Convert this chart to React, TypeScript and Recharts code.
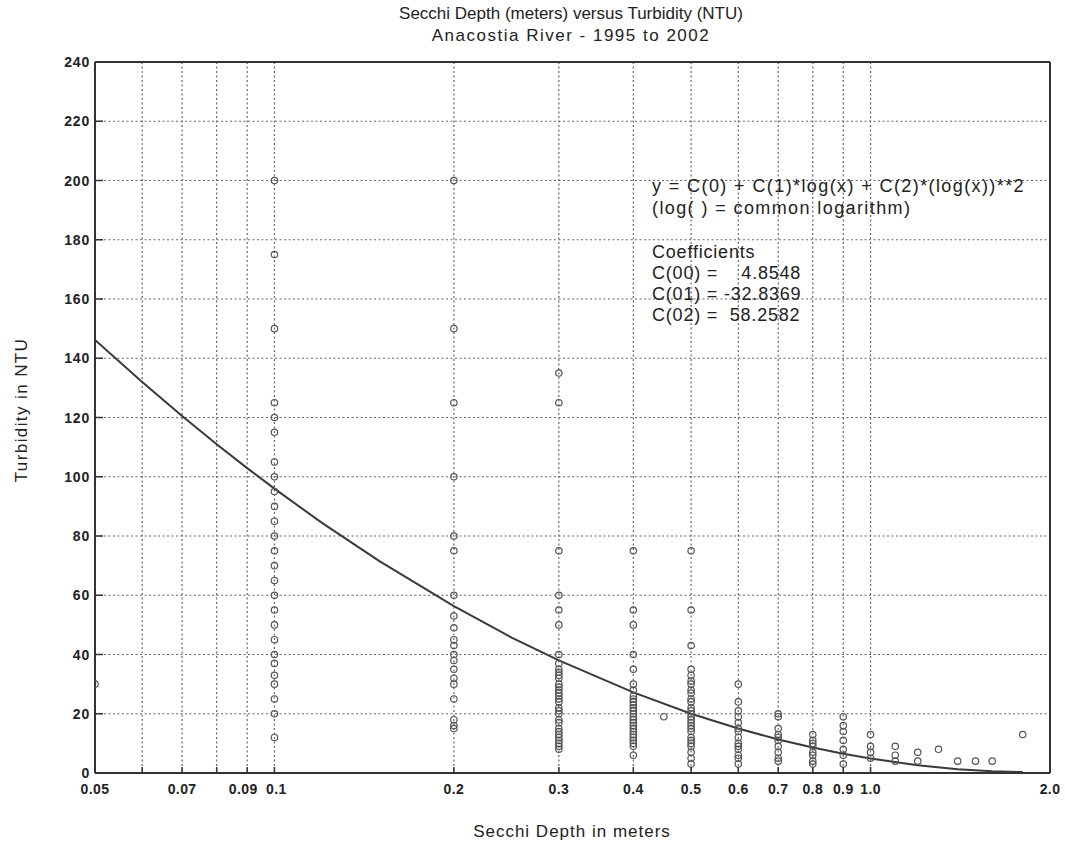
import React from 'react';
import { ScatterChart, Scatter, XAxis, YAxis, CartesianGrid, ReferenceLine } from 'recharts';

// axis ticks
const yTicks = [0, 20, 40, 60, 80, 100, 120, 140, 160, 180, 200, 220, 240];
const xTicks = [0.05, 0.06, 0.07, 0.08, 0.09, 0.1, 0.2, 0.3, 0.4, 0.5, 0.6, 0.7, 0.8, 0.9, 1.0, 2.0];
const xTickLabels = ['0.05', '', '0.07', '', '0.09', '0.1', '0.2', '0.3', '0.4', '0.5', '0.6', '0.7', '0.8', '0.9', '1.0', '2.0'];

// observed turbidity (NTU) per secchi depth reading
const ntuAt005 = [30];
const ntuAt01 = [200, 175, 150, 125, 120, 115, 105, 100, 95, 90, 85, 80, 75, 70, 65, 60, 55, 50, 45, 40, 37, 33, 30, 25, 20, 12];
const ntuAt02 = [200, 150, 125, 100, 80, 75, 60, 53, 49, 45, 43, 40, 38, 35, 32, 30, 25, 18, 16, 15];
const ntuAt03 = [135, 125, 75, 60, 55, 50, 40, 37, 35, 34, 33, 32, 30, 29, 28, 27, 26, 25, 24, 22, 21, 20, 18, 17, 15, 14, 13, 12, 11, 10, 9, 8];
const ntuAt04 = [75, 55, 50, 40, 35, 30, 28, 26, 25, 24, 23, 22, 21, 20, 19, 18, 17, 16, 15, 14, 13, 12, 11, 10, 9, 6];
const ntuAt045 = [19];
const ntuAt05 = [75, 55, 43, 35, 33, 31, 30, 28, 27, 25, 24, 22, 21, 20, 19, 18, 17, 16, 15, 14, 12, 11, 10, 9, 7, 5, 3];
const ntuAt06 = [30, 24, 21, 19, 17, 15, 14, 12, 10, 9, 8, 6, 5, 3];
const ntuAt07 = [20, 19, 15, 13, 12, 11, 9, 7, 5, 4];
const ntuAt08 = [13, 11, 10, 9, 7, 6, 4, 3];
const ntuAt09 = [19, 16, 14, 11, 8, 6, 3];
const ntuAt10 = [13, 9, 7, 5];
const ntuAt11 = [9, 6, 4];
const ntuAt12 = [7, 4];
const ntuAt13 = [8];
const ntuAt14 = [4];
const ntuAt15 = [4];
const ntuAt16 = [4];
const ntuAt18 = [13];

const readings: [number, number[]][] = [
  [0.05, ntuAt005], [0.1, ntuAt01], [0.2, ntuAt02], [0.3, ntuAt03], [0.4, ntuAt04], [0.45, ntuAt045],
  [0.5, ntuAt05], [0.6, ntuAt06], [0.7, ntuAt07], [0.8, ntuAt08], [0.9, ntuAt09], [1.0, ntuAt10],
  [1.1, ntuAt11], [1.2, ntuAt12], [1.3, ntuAt13], [1.4, ntuAt14], [1.5, ntuAt15], [1.6, ntuAt16], [1.8, ntuAt18],
];

// fitted curve
const curveDepth = [0.05, 0.06, 0.07, 0.08, 0.09, 0.1, 0.12, 0.15, 0.2, 0.25, 0.3, 0.4, 0.5, 0.6, 0.7, 0.8, 0.9, 1.0, 1.2, 1.4, 1.6, 1.8];
const curveNtu = [146.2, 132.0, 120.5, 111.0, 102.9, 96.0, 84.5, 71.5, 56.3, 45.7, 38.0, 27.2, 20.0, 15.0, 11.3, 8.6, 6.5, 4.9, 2.6, 1.3, 0.6, 0.3];

const points = readings.flatMap(([x, ys]) => ys.map(y => ({ x, y })));
const curve = curveDepth.map((x, i) => ({ x, y: curveNtu[i] }));

const FONT = '"Liberation Sans", Arial, sans-serif';

const XTick = (props: any) => {
  const { x, y, payload } = props;
  const i = xTicks.findIndex(t => Math.abs(t - payload.value) < 1e-9);
  const shift = xTickLabels[i] === '0.09' ? -4 : xTickLabels[i] === '0.1' ? 2 : 0;
  return (
    <g>
      <line x1={x} y1={y} x2={x} y2={y - 6} stroke="#333" strokeWidth={1.5} />
      <text x={x + shift} y={y + 21} textAnchor="middle" fontFamily={FONT} fontWeight="bold" fontSize={14} letterSpacing={0.4} fill="#222">
        {i >= 0 ? xTickLabels[i] : ''}
      </text>
    </g>
  );
};

const YTick = (props: any) => {
  const { x, y, payload } = props;
  return (
    <g>
      <line x1={x} y1={y} x2={x + 8} y2={y} stroke="#333" strokeWidth={1.5} />
      <text x={x - 5} y={y + 5} textAnchor="end" fontFamily={FONT} fontWeight="bold" fontSize={14} letterSpacing={0.8} fill="#222">
        {payload.value}
      </text>
    </g>
  );
};

const RightTick = (props: any) => {
  const { x, y } = props;
  return <line x1={x} y1={y} x2={x - 8} y2={y} stroke="#333" strokeWidth={1.5} />;
};

const Ring = (props: any) => (
  <circle cx={props.cx} cy={props.cy} r={3.2} fill="none" stroke="#555" strokeWidth={1.2} />
);

const textLine: React.CSSProperties = { position: 'absolute', fontFamily: FONT, color: '#222', whiteSpace: 'pre' };

export default function App() {
  return (
    <div style={{ position: 'absolute', left: 0, top: 0, width: 1065, height: 846, background: '#fff' }}>
      <ScatterChart width={1065} height={846} margin={{ top: 62, right: 0, bottom: 0, left: 0 }}>
        <CartesianGrid stroke="#666" strokeDasharray="2 2.5" strokeWidth={1.2} />
        <XAxis
          type="number"
          dataKey="x"
          scale="log"
          domain={[0.05, 2]}
          ticks={xTicks}
          interval={0}
          allowDataOverflow
          height={73}
          tickSize={0}
          tickMargin={0}
          tickLine={false}
          tick={<XTick />}
          stroke="#333"
          strokeWidth={2}
        />
        <YAxis
          type="number"
          dataKey="y"
          domain={[0, 240]}
          ticks={yTicks}
          interval={0}
          width={95}
          tickSize={0}
          tickMargin={0}
          tickLine={false}
          tick={<YTick />}
          stroke="#333"
          strokeWidth={2}
        />
        <YAxis
          yAxisId="r"
          orientation="right"
          type="number"
          domain={[0, 240]}
          ticks={yTicks}
          interval={0}
          width={15}
          tickSize={0}
          tickMargin={0}
          tickLine={false}
          tick={<RightTick />}
          stroke="#333"
          strokeWidth={2}
        />
        <ReferenceLine y={240} stroke="#333" strokeWidth={2} />
        <Scatter data={curve} line={{ stroke: '#3a3a3a', strokeWidth: 2 }} shape={() => null} isAnimationActive={false} />
        <Scatter data={points} shape={<Ring />} isAnimationActive={false} />
      </ScatterChart>

      <div style={{ ...textLine, left: 0, width: 1142, top: 4, fontSize: 17, textAlign: 'center' }}>
        Secchi Depth (meters) versus Turbidity (NTU)
      </div>
      <div style={{ ...textLine, left: 0, width: 1142, top: 26, fontSize: 17, letterSpacing: 1.5, textAlign: 'center' }}>
        Anacostia River - 1995 to 2002
      </div>
      <div style={{ ...textLine, left: 0, width: 1144, top: 822, fontSize: 17, letterSpacing: 1, textAlign: 'center' }}>
        Secchi Depth in meters
      </div>
      <div
        style={{
          ...textLine,
          left: 22,
          top: 410,
          fontSize: 17,
          letterSpacing: 1.4,
          transform: 'translate(-50%, -50%) rotate(-90deg)',
        }}
      >
        Turbidity in NTU
      </div>

      <div style={{ ...textLine, left: 652, top: 175, fontSize: 18, letterSpacing: 1.4, lineHeight: '22px' }}>
        {'y = C(0) + C(1)*log(x) + C(2)*(log(x))**2\n(log( ) = common logarithm)'}
      </div>
      <div style={{ ...textLine, left: 652, top: 242, fontSize: 18, letterSpacing: 0.8, lineHeight: '21px' }}>
        {'Coefficients\nC(00) =    4.8548\nC(01) = -32.8369\nC(02) =  58.2582'}
      </div>
    </div>
  );
}
